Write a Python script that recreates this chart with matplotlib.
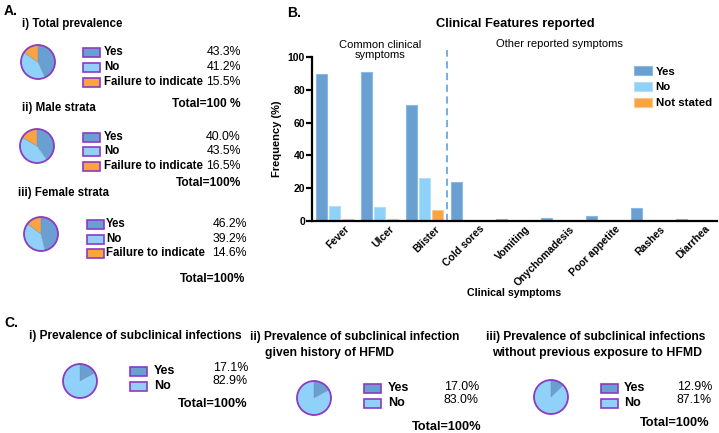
import numpy as np
import matplotlib
matplotlib.use('Agg')
import matplotlib.pyplot as plt
from matplotlib.patches import Rectangle, Circle
import matplotlib.transforms as mtrans

plt.rcParams['font.family'] = ['Liberation Sans', 'DejaVu Sans']

# 数据 - panel A
a_labels = ['Yes', 'No', 'Failure to indicate']
total_prev = [43.3, 41.2, 15.5]
male_prev = [40.0, 43.5, 16.5]
female_prev = [46.2, 39.2, 14.6]

# 数据 - panel B
symptoms = ['Fever', 'Ulcer', 'Blister', 'Cold sores', 'Vomiting',
            'Onychomadesis', 'Poor appetite', 'Rashes', 'Diarrhea']
yes_vals = [89.7, 91.0, 70.5, 23.7, 1.0, 2.0, 3.0, 8.0, 1.0]
no_vals = [9.3, 8.4, 26.5, 0, 0, 0, 0, 0, 0]
ns_vals = [1.0, 1.0, 6.7, 0, 0, 0, 0, 0, 0]
b_series = ['Yes', 'No', 'Not stated']

# 数据 - panel C
c_labels = ['Yes', 'No']
sub_all = [17.1, 82.9]
sub_hist = [17.0, 83.0]
sub_nohist = [12.9, 87.1]

YES_C = '#6a9fd2'
NO_C = '#8fd1f9'
FAIL_C = '#f9a440'
PURPLE = '#8b3bc4'

W, H = 719, 433
fig = plt.figure(figsize=(W / 100, H / 100), dpi=100)

# 像素坐标的覆盖层
ov = fig.add_axes([0, 0, 1, 1])
ov.set_facecolor('none')


def pie_block(vals, labels, center, r, px, rows, tx, pct_x, pct_rows,
              total_txt, total_xy, fs_lab=8.3, fs_pct=8.8, fs_tot=8.6):
    cols = [YES_C, NO_C, FAIL_C][:len(vals)]
    ov.pie(vals, colors=cols, startangle=270, counterclock=True,
           center=center, radius=r, frame=True,
           wedgeprops=dict(linewidth=0.3, edgecolor='#7a8fb0'))
    ov.add_patch(Circle(center, r, fill=False, edgecolor=PURPLE, lw=1.3))
    for lab, c, y in zip(labels, cols, rows):
        ov.add_patch(Rectangle((px, y - 4.5), 17, 9, facecolor=c,
                               edgecolor=PURPLE, lw=1.2))
        ov.text(tx, y, lab, fontsize=fs_lab, fontweight='bold', va='center', ha='left')
    for v, y in zip(vals, pct_rows):
        ov.text(pct_x, y, f'{v:.1f}%', fontsize=fs_pct, va='center', ha='right')
    ov.text(total_xy[0], total_xy[1], total_txt, fontsize=fs_tot, fontweight='bold',
            va='center', ha='right')


# Panel A
ov.text(4, 11, 'A.', fontsize=10, fontweight='bold', va='center')
ov.text(22, 24, 'i) Total prevalence', fontsize=8.3, fontweight='bold', va='center')
pie_block(total_prev, a_labels, (38, 62), 17, 83, [52, 67, 82], 104, 241,
          [52, 67, 82], 'Total=100 %', (241, 104))
ov.text(22, 108, 'ii) Male strata', fontsize=8.3, fontweight='bold', va='center')
pie_block(male_prev, a_labels, (37, 146), 17, 83, [137, 151, 166], 104, 241,
          [137, 151, 166], 'Total=100%', (241, 183))
ov.text(18, 193, 'iii) Female strata', fontsize=8.3, fontweight='bold', va='center')
pie_block(female_prev, a_labels, (41, 234), 17, 87, [224, 239, 253], 106, 247,
          [224, 239, 253], 'Total=100%', (245, 279))

# Panel C
C_FS = dict(fs_lab=9, fs_pct=8.9, fs_tot=9.2)
ov.text(4, 323, 'C.', fontsize=10, fontweight='bold', va='center')
ov.text(29, 336, 'i) Prevalence of subclinical infections', fontsize=8.6,
        fontweight='bold', va='center')
pie_block(sub_all, c_labels, (80, 381), 17, 130, [371, 386], 154, 248,
          [368, 381], 'Total=100%', (248, 404), **C_FS)
ov.text(250, 337, 'ii) Prevalence of subclinical infection', fontsize=8.6,
        fontweight='bold', va='center')
ov.text(265, 353, 'given history of HFMD', fontsize=8.7, fontweight='bold', va='center')
pie_block(sub_hist, c_labels, (314, 398), 17, 364, [388, 403], 388, 479,
          [387, 400], 'Total=100%', (481, 427), **C_FS)
ov.text(596, 337, 'iii) Prevalence of subclinical infections', fontsize=8.6,
        fontweight='bold', va='center', ha='center')
ov.text(597, 353, 'without previous exposure to HFMD', fontsize=8.8,
        fontweight='bold', va='center', ha='center')
pie_block(sub_nohist, c_labels, (551, 397), 17, 601, [388, 403], 624, 712,
          [387, 400], 'Total=100%', (710, 423), **C_FS)

# Panel B 标题等
ov.text(287, 13, 'B.', fontsize=10, fontweight='bold', va='center')
ov.text(515, 24, 'Clinical Features reported', fontsize=9.3, fontweight='bold',
        va='center', ha='center')
ov.text(380, 50, 'Common clinical\nsymptoms', fontsize=8, va='center', ha='center',
        linespacing=1.05)
ov.text(559, 44, 'Other reported symptoms', fontsize=8, va='center', ha='center')

ov.set_xlim(0, W)
ov.set_ylim(H, 0)
ov.set_aspect('auto')
ov.set_axis_off()

# 柱状图
L, R, T, B = 312, 717, 57, 221
ax = fig.add_axes([L / W, 1 - B / H, (R - L) / W, (B - T) / H])
ax.set_facecolor('none')
x = np.arange(len(symptoms))
off = 0.29
bw = 0.23
ax.bar(x - off, yes_vals, bw, color='#6a9fd2', edgecolor='#8cb8e2', lw=0.8, label=b_series[0])
ax.bar(x, no_vals, bw, color='#8fd1f9', edgecolor='#b5def5', lw=0.8, label=b_series[1])
ax.bar(x + off, ns_vals, bw, color='#f9a440', edgecolor='#fbc88a', lw=0.8, label=b_series[2])
ax.axvline(2.5, ymin=0, ymax=1.045, color='#6aa8e0', ls=(0, (4, 2.5)), lw=1.3, clip_on=False)
ax.set_xlim(-0.5, 8.5)
ax.set_ylim(0, 100)
ax.set_yticks([0, 20, 40, 60, 80, 100])
for s in ['top', 'right']:
    ax.spines[s].set_visible(False)
for s in ['left', 'bottom']:
    ax.spines[s].set_linewidth(1.6)
ax.tick_params(axis='y', width=1.6, length=4, labelsize=7.5, pad=1)
ax.tick_params(axis='x', length=0, labelsize=7.5, pad=2)
for lab in ax.get_yticklabels():
    lab.set_fontweight('bold')
ax.set_xticks(x)
ax.set_xticklabels(symptoms, rotation=45, ha='right', va='top',
                   rotation_mode='anchor', fontweight='bold')
shift = mtrans.ScaledTranslation(10 / 100, 0, fig.dpi_scale_trans)
for lab in ax.get_xticklabels():
    lab.set_transform(lab.get_transform() + shift)
ax.set_ylabel('Frequency (%)', fontsize=8, fontweight='bold', labelpad=4)
ax.set_xlabel('Clinical symptoms', fontsize=7.7, fontweight='bold', labelpad=0)
ax.legend(loc='upper left', bbox_to_anchor=(634 / W, 1 - 66 / H),
          bbox_transform=fig.transFigure, frameon=False,
          prop=dict(size=8.2, weight='bold'), handlelength=1.6, handleheight=0.9,
          handletextpad=0.3, labelspacing=0.45, borderpad=0, borderaxespad=0)

fig.savefig('out.png', dpi=100)
